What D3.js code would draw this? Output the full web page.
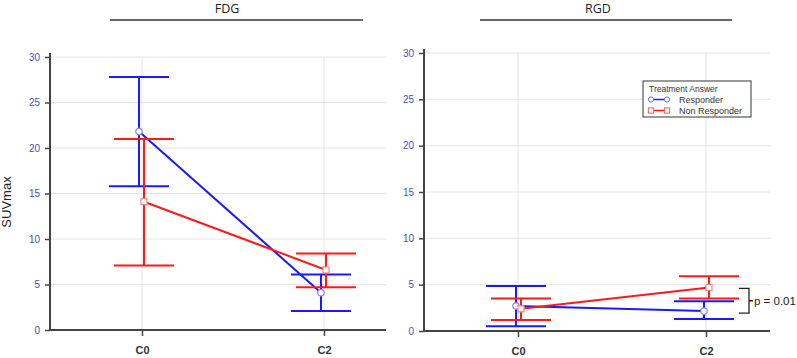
<!DOCTYPE html>
<html>
<head>
<meta charset="utf-8">
<script src="https://cdn.jsdelivr.net/npm/d3@7"></script>
<style>
  body { margin: 0; background: #fff; }
  svg { display: block; }
</style>
</head>
<body>
<div id="chart"></div>
<script>
(function() {

  // data
  var categories = ['C0', 'C2'];
  var yTicks = [0, 5, 10, 15, 20, 25, 30];

  var fdgResponderMean = [21.8, 4.1],
      fdgResponderLow  = [15.8, 2.1],
      fdgResponderHigh = [27.8, 6.1];
  var fdgNonMean = [14.1, 6.6],
      fdgNonLow  = [7.1, 4.7],
      fdgNonHigh = [21.0, 8.4];

  var rgdResponderMean = [2.7, 2.15],
      rgdResponderLow  = [0.5, 1.3],
      rgdResponderHigh = [4.85, 3.2];
  var rgdNonMean = [2.4, 4.7],
      rgdNonLow  = [1.2, 3.5],
      rgdNonHigh = [3.5, 5.9];

  var blue = '#1a1aff', red = '#ff1a1a';
  var font = 'Liberation Sans, Arial, sans-serif';

  var svg = d3.select('#chart')
    .append('svg')
    .attr('width', 797)
    .attr('height', 358);

  // y axis title
  svg.append('text')
    .attr('transform', 'translate(11,202) rotate(-90)')
    .attr('text-anchor', 'middle')
    .style('font-family', font)
    .style('font-size', '13px')
    .style('fill', '#222')
    .text('SUVmax');

  var draw = function(opt) {
    var g = svg.append('g');

    var x = d3.scalePoint().domain(categories).range(opt.cats);
    var y = d3.scaleLinear().domain([0, 30]).range([opt.bottom, opt.top]);

    // panel title + rule
    g.append('text')
      .attr('x', opt.titleX)
      .attr('y', 13)
      .attr('text-anchor', 'middle')
      .style('font-family', 'Open Sans, sans-serif')
      .style('font-size', '12.5px')
      .style('fill', '#222')
      .text(opt.title);
    g.append('line')
      .attr('x1', opt.rule[0]).attr('x2', opt.rule[1])
      .attr('y1', 20).attr('y2', 20)
      .attr('stroke', '#333').attr('stroke-width', 1.5);

    // grid
    g.selectAll('.hgrid').data(yTicks.slice(1)).enter()
      .append('line')
      .attr('x1', opt.left).attr('x2', opt.right)
      .attr('y1', function(d) { return y(d); })
      .attr('y2', function(d) { return y(d); })
      .attr('stroke', '#e4e4e4');
    g.selectAll('.vgrid').data(categories).enter()
      .append('line')
      .attr('x1', function(d) { return x(d); })
      .attr('x2', function(d) { return x(d); })
      .attr('y1', opt.top).attr('y2', opt.bottom)
      .attr('stroke', '#e4e4e4');

    // y axis
    var ya = g.append('g')
      .attr('transform', 'translate(' + opt.left + ',0)')
      .call(d3.axisLeft(y).tickValues(yTicks).tickSize(5).tickPadding(5).tickSizeOuter(0));
    ya.select('.domain').remove();
    ya.selectAll('.tick line').attr('stroke', '#444').attr('stroke-width', 1.5);
    ya.selectAll('.tick text')
      .style('font-family', font)
      .style('font-size', '10px')
      .attr('fill', '#5050b0');
    g.append('line')
      .attr('x1', opt.left).attr('x2', opt.left)
      .attr('y1', opt.top - 4).attr('y2', opt.bottom + 1)
      .attr('stroke', '#444').attr('stroke-width', 2);

    // x axis
    var xa = g.append('g')
      .attr('transform', 'translate(0,' + opt.bottom + ')')
      .call(d3.axisBottom(x).tickSize(6).tickPadding(10));
    xa.select('.domain').remove();
    xa.selectAll('.tick line').attr('stroke', '#444').attr('stroke-width', 1.5);
    xa.selectAll('.tick text')
      .style('font-family', font)
      .style('font-size', '11px')
      .style('font-weight', 'bold')
      .attr('fill', '#333');
    g.append('line')
      .attr('x1', opt.left - 1).attr('x2', opt.right)
      .attr('y1', opt.bottom).attr('y2', opt.bottom)
      .attr('stroke', '#444').attr('stroke-width', 2);

    // series
    opt.series.forEach(function(s) {
      var pts = categories.map(function(c, i) {
        return { x: x(c) + s.dx, m: s.mean[i], lo: s.low[i], hi: s.high[i] };
      });
      var sg = g.append('g');
      sg.selectAll('.err').data(pts).enter()
        .append('line')
        .attr('x1', function(d) { return d.x; }).attr('x2', function(d) { return d.x; })
        .attr('y1', function(d) { return y(d.lo); }).attr('y2', function(d) { return y(d.hi); })
        .attr('stroke', s.color).attr('stroke-width', 2);
      ['lo', 'hi'].forEach(function(k) {
        sg.selectAll('.cap-' + k).data(pts).enter()
          .append('line')
          .attr('x1', function(d) { return d.x - 30; }).attr('x2', function(d) { return d.x + 30; })
          .attr('y1', function(d) { return y(d[k]); }).attr('y2', function(d) { return y(d[k]); })
          .attr('stroke', s.color).attr('stroke-width', 2);
      });
      sg.append('path')
        .datum(pts)
        .attr('d', d3.line().x(function(d) { return d.x; }).y(function(d) { return y(d.m); }))
        .attr('fill', 'none').attr('stroke', s.color).attr('stroke-width', 2);
      if (s.shape === 'circle') {
        sg.selectAll('.pt').data(pts).enter()
          .append('circle')
          .attr('cx', function(d) { return d.x; }).attr('cy', function(d) { return y(d.m); })
          .attr('r', 3.2)
          .attr('fill', '#fff').attr('stroke', s.light).attr('stroke-width', 1.2);
      } else {
        sg.selectAll('.pt').data(pts).enter()
          .append('rect')
          .attr('x', function(d) { return d.x - 3; }).attr('y', function(d) { return y(d.m) - 3; })
          .attr('width', 6).attr('height', 6)
          .attr('fill', '#fff').attr('stroke', s.light).attr('stroke-width', 1.2);
      }
    });

    return { g: g, x: x, y: y };
  };

  draw({
    title: 'FDG', titleX: 227, rule: [110, 363],
    left: 50, right: 386, top: 57, bottom: 330, cats: [142, 324],
    series: [
      { mean: fdgResponderMean, low: fdgResponderLow, high: fdgResponderHigh, color: blue, light: '#8888dd', shape: 'circle', dx: -3 },
      { mean: fdgNonMean, low: fdgNonLow, high: fdgNonHigh, color: red, light: '#ee8888', shape: 'square', dx: 2 }
    ]
  });

  var rgd = draw({
    title: 'RGD', titleX: 598, rule: [480, 732],
    left: 424, right: 770, top: 53, bottom: 331, cats: [518, 706],
    series: [
      { mean: rgdResponderMean, low: rgdResponderLow, high: rgdResponderHigh, color: blue, light: '#8888dd', shape: 'circle', dx: -2 },
      { mean: rgdNonMean, low: rgdNonLow, high: rgdNonHigh, color: red, light: '#ee8888', shape: 'square', dx: 3 }
    ]
  });

  // legend
  var lg = rgd.g.append('g').attr('transform', 'translate(643,81)');
  lg.append('rect')
    .attr('width', 108).attr('height', 36)
    .attr('fill', '#fff').attr('stroke', '#555').attr('stroke-width', 1.2);
  lg.append('text').attr('x', 6).attr('y', 11)
    .style('font-family', font).style('font-size', '8.5px').attr('fill', '#333')
    .text('Treatment Answer');
  var legendItems = [
    { label: 'Responder', color: blue, light: '#6a6ae0', shape: 'circle' },
    { label: 'Non Responder', color: red, light: '#f06060', shape: 'square' }
  ];
  legendItems.forEach(function(d, i) {
    var yy = 18.5 + i * 11;
    lg.append('line').attr('x1', 8).attr('x2', 24).attr('y1', yy).attr('y2', yy)
      .attr('stroke', d.color).attr('stroke-width', 1.5);
    [8, 24].forEach(function(px) {
      if (d.shape === 'circle') {
        lg.append('circle').attr('cx', px).attr('cy', yy).attr('r', 2.6)
          .attr('fill', '#fff').attr('stroke', d.light);
      } else {
        lg.append('rect').attr('x', px - 2.6).attr('y', yy - 2.6).attr('width', 5.2).attr('height', 5.2)
          .attr('fill', '#fff').attr('stroke', d.light);
      }
    });
    lg.append('text').attr('x', 36).attr('y', yy + 3)
      .style('font-family', font).style('font-size', '9px').attr('fill', '#333')
      .text(d.label);
  });

  // significance bracket
  var yTop = rgd.y(rgdNonMean[1]) + 1, yBot = rgd.y(rgdResponderMean[1]) + 2;
  var yMid = (yTop + yBot) / 2;
  svg.append('path')
    .attr('d', 'M739,' + yTop + 'H749V' + yBot + 'H739M749,' + yMid + 'H753')
    .attr('fill', 'none').attr('stroke', '#222').attr('stroke-width', 1.3);
  svg.append('text')
    .attr('x', 754).attr('y', yMid + 4.5)
    .style('font-family', font)
    .style('font-size', '11.5px')
    .attr('fill', '#222')
    .text('p = 0.01');

})();
</script>
</body>
</html>
